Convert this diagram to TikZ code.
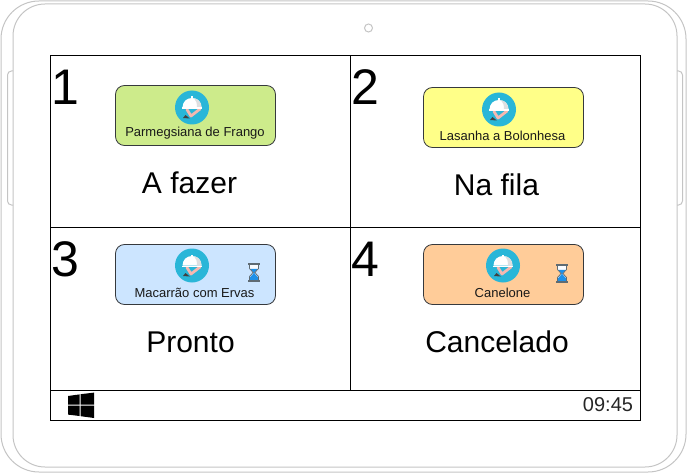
\documentclass[tikz,border=0pt]{standalone}
\usepackage{fontspec}
\setmainfont{Liberation Sans}
\definecolor{framegray}{HTML}{C4C4C4}
\definecolor{cardline}{HTML}{36393D}
\definecolor{iconblue}{HTML}{29B6D8}
\definecolor{handpink}{HTML}{F6B8B0}
\definecolor{domegray}{HTML}{DEDFE0}
\definecolor{cgreen}{HTML}{CDEB8B}
\definecolor{cyellow}{HTML}{FFFF88}
\definecolor{cblue}{HTML}{CCE5FF}
\definecolor{corange}{HTML}{FFCC99}
\definecolor{sandblue}{HTML}{1E90E8}
\definecolor{glassgray}{HTML}{5F6B73}
\newcommand{\fs}[1]{\fontsize{#1}{#1}\selectfont}
\tikzset{
  x=1pt,y=-1pt,
  frameline/.style={draw=framegray,line width=1pt},
  cell/.style={draw=black,line width=1pt,fill=none},
  card/.style={draw=cardline,line width=0.8pt,rounded corners=9pt},
  cardtext/.style={font=\fs{13},text=black!90,anchor=center,inner sep=0pt},
  numlabel/.style={font=\fs{50},anchor=center,inner sep=0pt},
  statuslabel/.style={font=\fs{30},anchor=center,inner sep=0pt},
  dishicon/.pic={
    \fill[iconblue] (0,0) circle[radius=17];
    \draw[handpink,line width=2.8pt,line cap=round,line join=round] (-5,2) -- (-1,8.5) -- (8,1.5);
    \fill[black!75] (-9,10.5) -- (-6.5,7.5) -- (-3.5,10) -- (-2,11) -- cycle;
    \fill[white] (-9.5,0) .. controls (-9.5,-5.5) and (-5.5,-9.5) .. (0,-9.5) .. controls (5.5,-9.5) and (9.5,-5.5) .. (9.5,0) -- cycle;
    \fill[domegray] (2,-9.3) .. controls (6.5,-8.7) and (9.5,-5) .. (9.5,0) -- (5,0) .. controls (5,-4) and (4.5,-7) .. (2,-9.3) -- cycle;
    \fill[white] (-1.2,-11) rectangle (1.2,-9);
    \fill[white] (-10,0) rectangle (10,1.6);
  },
  hourglass/.pic={
    \fill[white!90!cblue] (-4.5,-8) -- (4.5,-8) -- (4.5,-4) -- (0.9,0) -- (4.5,4) -- (4.5,8) -- (-4.5,8) -- (-4.5,4) -- (-0.9,0) -- (-4.5,-4) -- cycle;
    \fill[sandblue] (-3.6,-3.6) -- (3.6,-3.6) -- (0.6,0) -- (0.6,1) -- (4,4.8) -- (4,8) -- (-4,8) -- (-4,4.8) -- (-0.6,1) -- (-0.6,0) -- cycle;
    \draw[glassgray,line width=0.7pt] (-4.5,-8) -- (-4.5,-4) -- (-0.9,0) -- (-4.5,4) -- (-4.5,8);
    \draw[glassgray,line width=0.7pt] (4.5,-8) -- (4.5,-4) -- (0.9,0) -- (4.5,4) -- (4.5,8);
    \fill[glassgray] (-6,-9.5) rectangle (6,-7.8);
    \fill[glassgray] (-6,7.8) rectangle (6,9.5);
  },
}
\begin{document}
\begin{tikzpicture}
\useasboundingbox (0,0) rectangle (687,473);
% tablet body
\draw[frameline,rounded corners=38pt] (1,1) rectangle (686,472);
\draw[frameline,rounded corners=32pt] (13,4) rectangle (677,467);
\draw[frameline,rounded corners=4pt] (13,71) -- (7.5,71) -- (7.5,205) -- (13,205);
\draw[frameline,rounded corners=4pt] (677,71) -- (682.5,71) -- (682.5,205) -- (677,205);
\node[draw=framegray,line width=1pt,circle,minimum size=8pt,inner sep=0pt] (camera) at (368.5,28) {};
% screen grid
\draw[cell] (50.5,55.5) rectangle (640.5,420.5);
\draw[cell] (50.5,227.5) -- (640.5,227.5);
\draw[cell] (50.5,390.5) -- (640.5,390.5);
\draw[cell] (350.5,55.5) -- (350.5,390.5);
% cards
\draw[card,fill=cgreen] (115.5,85.5) rectangle (275.5,145.5);
\draw[card,fill=cyellow] (423.5,87.5) rectangle (583.5,147.5);
\draw[card,fill=cblue] (115.5,244.5) rectangle (275.5,304.5);
\draw[card,fill=corange] (423.5,244.5) rectangle (583.5,304.5);
% icons
\pic at (192,107.5) {dishicon};
\pic at (499,109.5) {dishicon};
\pic at (192,265.5) {dishicon};
\pic at (503,265.5) {dishicon};
\pic at (254,272.5) {hourglass};
\pic at (562,273.5) {hourglass};
% card texts
\node[cardtext] (t1) at (195,133.5) {Parmegsiana de Frango};
\node[cardtext] (t2) at (502.5,135.5) {Lasanha a Bolonhesa};
\node[cardtext] (t3) at (194.5,292.5) {Macarrão com Ervas};
\node[cardtext] (t4) at (502.5,292.5) {Canelone};
% numbers
\node[numlabel] (n1) at (65,87) {1};
\node[numlabel] (n2) at (365,87) {2};
\node[numlabel] (n3) at (65,259) {3};
\node[numlabel] (n4) at (365,259) {4};
% status
\node[statuslabel] (s1) at (189.5,183) {A fazer};
\node[statuslabel] (s2) at (496.5,184.5) {Na fila};
\node[statuslabel] (s3) at (190.5,342) {Pronto};
\node[statuslabel] (s4) at (497,342) {Cancelado};
% task bar
\fill[black] (68,396) -- (79.5,394.4) -- (79.5,404.5) -- (68,404.5) -- cycle;
\fill[black] (80.7,394.2) -- (94,392.6) -- (94,404.5) -- (80.7,404.5) -- cycle;
\fill[black] (68,405.7) -- (79.5,405.7) -- (79.5,416) -- (68,414.6) -- cycle;
\fill[black] (80.7,405.7) -- (94,405.7) -- (94,418) -- (80.7,416.2) -- cycle;
\node[font=\fs{20},text=black!85,anchor=center,inner sep=0pt] (clock) at (608,405) {09:45};
\end{tikzpicture}
\end{document}
